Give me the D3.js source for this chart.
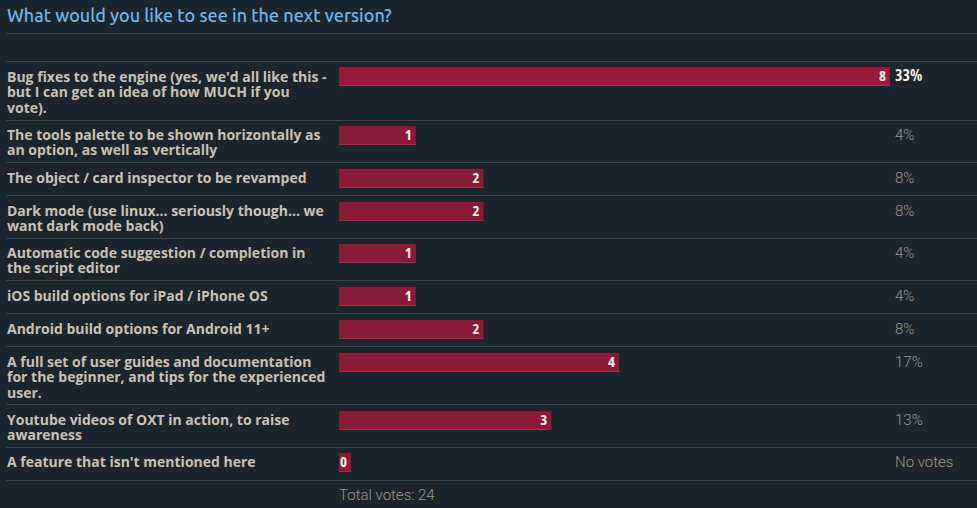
<!DOCTYPE html>
<html>
<head>
<meta charset="utf-8">
<script src="https://cdn.jsdelivr.net/npm/d3@7"></script>
<style>
  html, body { margin: 0; padding: 0; background: #1c252b; }
  svg { display: block; }
</style>
</head>
<body>
<svg id="chart" width="977" height="508"></svg>
<script>
const title = "What would you like to see in the next version?";
const options = [
  "Bug fixes to the engine (yes, we'd all like this -\nbut I can get an idea of how MUCH if you\nvote).",
  "The tools palette to be shown horizontally as\nan option, as well as vertically",
  "The object / card inspector to be revamped",
  "Dark mode (use linux... seriously though... we\nwant dark mode back)",
  "Automatic code suggestion / completion in\nthe script editor",
  "iOS build options for iPad / iPhone OS",
  "Android build options for Android 11+",
  "A full set of user guides and documentation\nfor the beginner, and tips for the experienced\nuser.",
  "Youtube videos of OXT in action, to raise\nawareness",
  "A feature that isn't mentioned here"
];
const votes = [8, 1, 2, 2, 1, 1, 2, 4, 3, 0];
const percentLabels = ["33%", "4%", "8%", "8%", "4%", "4%", "8%", "17%", "13%", "No votes"];
const totalLabel = "Total votes: 24";

const svg = d3.select("#chart");
const W = 977;
const labelX = 7;
const barX = 339;
const pctX = 895;
const lineH = 15.5;

const x = d3.scaleLinear().domain([0, d3.max(votes)]).range([0, 542]);

svg.append("text")
  .attr("x", 7).attr("y", 22)
  .attr("fill", "#6db6f2")
  .style("font-family", "Ubuntu, 'Open Sans', sans-serif")
  .style("font-size", "18px")
  .style("font-weight", 500)
  .text(title);

const sepColor = "#3a4541";
function sep(y) {
  const yy = Math.round(y) + 0.5;
  svg.append("line").attr("x1", 6).attr("x2", W).attr("y1", yy).attr("y2", yy)
    .attr("stroke", sepColor).attr("stroke-width", 1);
}
sep(33);
sep(61);

const labelFont = sel => sel
  .style("font-family", "'Open Sans', sans-serif")
  .style("font-size", "14px").style("font-weight", 700);

const wrapped = options.map(s => s.split("\n"));

let y = 62;
const rows = wrapped.map((lines, i) => {
  const h = Math.max(33, 11.5 + lineH * lines.length);
  const r = { top: y, h, lines, v: votes[i], pct: percentLabels[i], i };
  y += h;
  return r;
});

const g = svg.selectAll("g.row").data(rows).join("g").attr("class", "row")
  .attr("transform", d => `translate(0,${Math.round(d.top)})`);

g.each(function(d) {
  const t = d3.select(this).append("text")
    .attr("fill", "#c9c1b6")
    .call(labelFont);
  d.lines.forEach((ln, k) => {
    t.append("tspan").attr("x", labelX).attr("y", 19.5 + k * lineH).text(ln);
  });
});

const barY = 5, barH = 19;
const by = d => d.i === 0 ? barY : barY + 1;
const bw = d => Math.max(12, 9 + x(d.v));
g.append("rect")
  .attr("x", barX).attr("y", by)
  .attr("width", bw)
  .attr("height", barH - 1)
  .attr("fill", d => d.i === 0 ? "#981a3c" : "#871b38");
g.append("rect")
  .attr("x", barX).attr("y", d => by(d) + barH - 1)
  .attr("width", bw)
  .attr("height", 1)
  .attr("fill", "#c4223f");

g.append("text")
  .attr("x", d => barX + bw(d) - 4)
  .attr("y", d => by(d) + 14)
  .attr("text-anchor", "end")
  .attr("fill", "#f2eeea")
  .style("font-family", "'Open Sans', sans-serif")
  .style("font-stretch", "75%")
  .style("font-size", "15px").style("font-weight", 700)
  .text(d => d.v);

g.append("text")
  .attr("x", pctX)
  .attr("y", d => by(d) + 13.5)
  .attr("fill", d => d.i === 0 ? "#f2eeea" : "#9c978f")
  .style("font-family", d => d.i === 0 ? "'Open Sans', sans-serif" : "Roboto, sans-serif")
  .style("font-stretch", d => d.i === 0 ? "75%" : "100%")
  .style("font-size", d => d.i === 0 ? "16px" : "15px")
  .style("font-weight", d => d.i === 0 ? 700 : 300)
  .text(d => d.pct);

rows.forEach(r => sep(r.top + r.h - 0.01));

svg.append("text")
  .attr("x", barX).attr("y", 500)
  .attr("fill", "#9c978f")
  .style("font-family", "Roboto, sans-serif")
  .style("font-size", "15px").style("font-weight", 300)
  .text(totalLabel);
</script>
</body>
</html>
